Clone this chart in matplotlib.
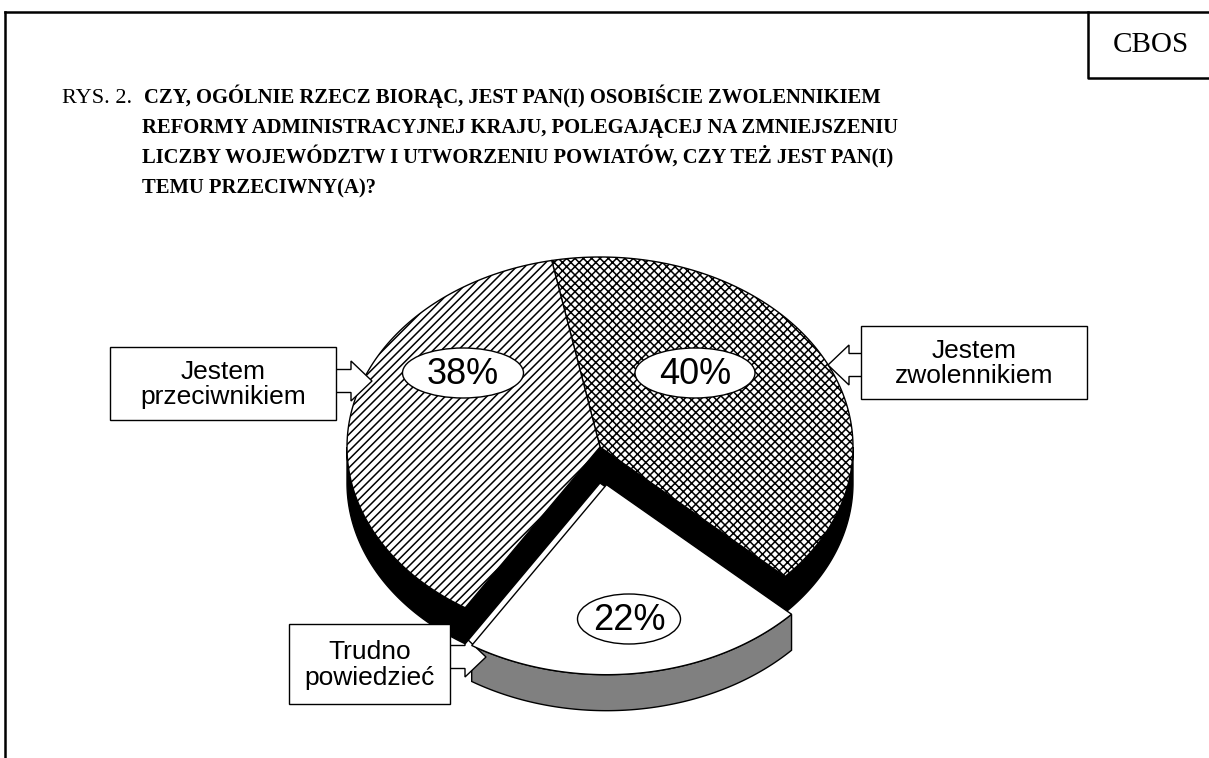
import numpy as np
import matplotlib.pyplot as plt
from matplotlib.patches import Polygon, Ellipse

plt.rcParams["hatch.linewidth"] = 1.1

# data
categories = ["Jestem\nzwolennikiem", "Trudno\npowiedzieć", "Jestem\nprzeciwnikiem"]
values = [40, 22, 38]
pct_labels = ["40%", "22%", "38%"]
explode = [0, 0.2, 0]
hatches = ["xxxx", "", "////"]
side_colors = ["black", "#808080", "black"]

title_lines = [
    "CZY, OGÓLNIE RZECZ BIORĄC, JEST PAN(I) OSOBIŚCIE ZWOLENNIKIEM",
    "REFORMY ADMINISTRACYJNEJ KRAJU, POLEGAJĄCEJ NA ZMNIEJSZENIU",
    "LICZBY WOJEWÓDZTW I UTWORZENIU POWIATÓW, CZY TEŻ JEST PAN(I)",
    "TEMU PRZECIWNY(A)?",
]

# pie geometry (pixel space, y pointing down)
cx, cy = 600, 447
rx, ry = 253, 190
depth = 36
start = -101

fig = plt.figure(figsize=(12.09, 7.58), dpi=100)
ax = fig.add_axes([0, 0, 1, 1])
ax.set_xlim(0, 1209)
ax.set_ylim(758, 0)
ax.axis("off")

serif = "Liberation Serif"
sans = "Liberation Sans"

# frame and CBOS box
ax.plot([5, 1209], [12, 12], color="black", lw=1.8)
ax.plot([5, 5], [12, 758], color="black", lw=1.8)
ax.plot([1088, 1088, 1209], [12, 78, 78], color="black", lw=1.8)
ax.text(1151, 45, "CBOS", family=serif, fontsize=21, ha="center", va="center")

# title
ax.text(62, 103, "RYS. 2.", family=serif, fontsize=16, va="baseline")
for i, line in enumerate(title_lines):
    ax.text(144 if i == 0 else 142, 103 + 30 * i, line, family=serif,
            fontsize=14.9, fontweight="bold", va="baseline")


def arc(a, b, ox, oy, dz=0, n=120):
    t = np.radians(np.linspace(a, b, n))
    return np.column_stack([cx + ox + rx * np.cos(t), cy + oy + ry * np.sin(t) + dz])


angles = start + np.concatenate([[0], np.cumsum(values)]) * 360 / sum(values)
slices = []
for i in range(len(values)):
    a, b = angles[i], angles[i + 1]
    mid = np.radians((a + b) / 2)
    ox = rx * explode[i] * np.cos(mid)
    oy = ry * explode[i] * np.sin(mid)
    slices.append((a, b, ox, oy))


def draw_slice(i, zside, ztop):
    a, b, ox, oy = slices[i]
    # outer wall, front half only
    for k in (-360, 0, 360):
        lo, hi = max(a, k), min(b, k + 180)
        if hi > lo:
            top = arc(lo, hi, ox, oy)
            bot = arc(hi, lo, ox, oy, depth)
            ax.add_patch(Polygon(np.vstack([top, bot]), closed=True,
                                 fc=side_colors[i], ec="black", lw=1, zorder=zside))
    # radial walls facing the viewer
    for ang, normal in ((a, a - 90), (b, b + 90)):
        if np.sin(np.radians(normal)) > 0.01:
            c = np.array([cx + ox, cy + oy])
            r = arc(ang, ang, ox, oy, n=1)[0]
            pts = [c, r, r + [0, depth], c + [0, depth]]
            ax.add_patch(Polygon(pts, closed=True, fc="black", ec="black",
                                 lw=1, zorder=zside))
    # top face
    face = np.vstack([[cx + ox, cy + oy], arc(a, b, ox, oy)])
    ax.add_patch(Polygon(face, closed=True, fc="white", ec="black", lw=1,
                         hatch=hatches[i], zorder=ztop))


for i in range(len(values)):
    if explode[i] == 0:
        draw_slice(i, 3, 4)
for i in range(len(values)):
    if explode[i] > 0:
        draw_slice(i, 2, 6)

# percentage labels in ellipses
pct_pos = [(695, 373, 120), (629, 619, 103), (463, 373, 121)]
for (x, y, w), lab in zip(pct_pos, pct_labels):
    ax.add_patch(Ellipse((x, y), w, 50, fc="white", ec="black", lw=1, zorder=8))
    ax.text(x, y + 1, lab, family=sans, fontsize=26, ha="center", va="center", zorder=9)


def block_arrow(x0, y, x_tip, z, shaft=23, head=40, head_len=21):
    s = np.sign(x_tip - x0)
    xb = x_tip - s * head_len
    pts = [(x0, y - shaft / 2), (xb, y - shaft / 2), (xb, y - head / 2), (x_tip, y),
           (xb, y + head / 2), (xb, y + shaft / 2), (x0, y + shaft / 2)]
    ax.add_patch(Polygon(pts, closed=True, fc="white", ec="black", lw=1, zorder=z))


# category boxes (x0, y0, x1, y1), arrow (from x, y, tip x, zorder)
boxes = [(861, 326, 1087, 399), (289, 624, 450, 704), (110, 347, 336, 420)]
arrows = [(862, 365, 828, 7), (449, 657, 486, 2.5), (335, 381, 372, 7)]
for (x0, y0, x1, y1), (ax0, ay, atip, z), cat in zip(boxes, arrows, categories):
    block_arrow(ax0, ay, atip, z)
    ax.add_patch(Polygon([(x0, y0), (x1, y0), (x1, y1), (x0, y1)], closed=True,
                         fc="white", ec="black", lw=1, zorder=7.5))
    ax.text((x0 + x1) / 2, (y0 + y1) / 2 + 1, cat, family=sans, fontsize=19,
            ha="center", va="center", linespacing=1.1, zorder=8)

fig.savefig("out.png", dpi=100)
